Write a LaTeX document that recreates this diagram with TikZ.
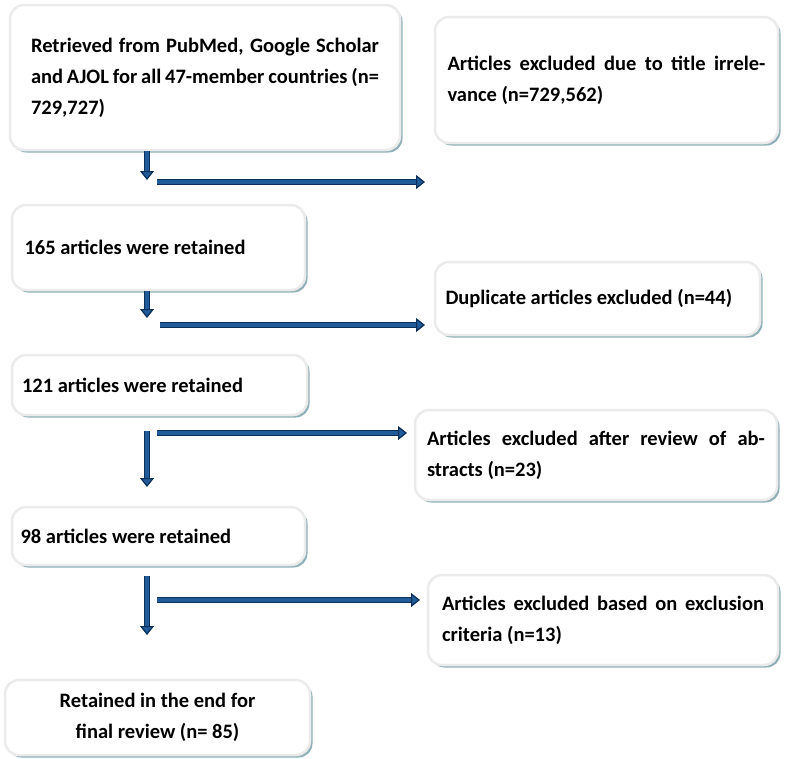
\documentclass[tikz,border=0pt]{standalone}
\usepackage{fontspec}
\setmainfont{Carlito}
\usetikzlibrary{shadows,arrows.meta}
\definecolor{arrfill}{HTML}{1F5C99}
\definecolor{arrdraw}{HTML}{0E2F5A}
\definecolor{shad}{HTML}{8FB0B8}
\tikzset{
 boxs/.style={draw=black!8, line width=2.5pt, fill=white, rounded corners=14pt,
   drop shadow={shadow xshift=2.5pt, shadow yshift=-2.5pt, fill=shad, opacity=1},
   font=\fontsize{20.5}{31}\selectfont\bfseries, inner xsep=0pt, inner ysep=0pt, anchor=center},
 arr/.style={draw=arrdraw, double=arrfill, double distance=3.5pt, line width=1.2pt,
   -{Triangle[length=9pt,width=14pt,fill=arrfill]}},
}
\newcommand{\bx}[6]{\node[boxs, minimum width=#3pt, minimum height=#4pt] (#1) at (#2) {\begin{minipage}{#5pt}\parindent=0pt #6\end{minipage}};}
\begin{document}
\begin{tikzpicture}[x=1pt,y=-1pt]
\useasboundingbox (0,0) rectangle (787,758);
\bx{b1}{205,77.5}{390}{145}{348}{Retrieved from PubMed, Google Scholar and AJOL for all 47-member countries (n= 729,727)}
\bx{b2}{606.5,80}{343}{126}{318}{Articles excluded due to title irrelevance (n=729,562)}
\bx{b3}{158.5,247.5}{293}{85}{268}{165 articles were retained}
\bx{b4}{597.5,298.5}{325}{73}{304}{Duplicate articles excluded (n=44)}
\bx{b5}{159.5,385}{295}{60}{275}{121 articles were retained}
\bx{b6}{596,455}{362}{90}{338}{Articles excluded after review of abstracts (n=23)}
\bx{b7}{158.5,536}{293}{58}{276}{98 articles were retained}
\bx{b8}{603,620}{350}{90}{322}{Articles excluded based on exclusion criteria (n=13)}
\node[boxs, minimum width=305pt, minimum height=75pt, align=center] (b9) at (157.5,717.5) {Retained in the end for\\final review (n= 85)};
% arrows
\coordinate (v1) at (147,180); \coordinate (h1s) at (157,182); \coordinate (h1e) at (425,182);
\coordinate (v2) at (147,318); \coordinate (h2s) at (160,325); \coordinate (h2e) at (425,325);
\coordinate (v3) at (147,487); \coordinate (h3s) at (157,433); \coordinate (h3e) at (407,433);
\coordinate (v4) at (147,635); \coordinate (h4s) at (157,600); \coordinate (h4e) at (420,600);
\draw[arr] (b1.south -| v1) -- (v1);
\draw[arr] (h1s) -- (h1e);
\draw[arr] (b3.south -| v2) -- (v2);
\draw[arr] (h2s) -- (h2e);
\draw[arr] ([yshift=-15pt]b5.south -| v3) -- (v3);
\draw[arr] (h3s) -- (h3e);
\draw[arr] ([yshift=-10pt]b7.south -| v4) -- (v4);
\draw[arr] (h4s) -- (h4e);
\end{tikzpicture}
\end{document}
